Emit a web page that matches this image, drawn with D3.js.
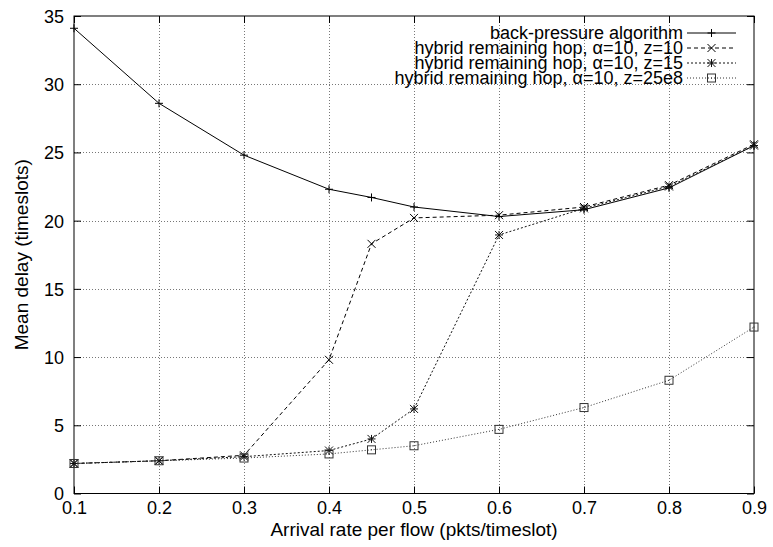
<!DOCTYPE html>
<html>
<head>
<meta charset="utf-8">
<script src="https://cdn.jsdelivr.net/npm/d3@7/dist/d3.min.js"></script>
<style>
  body { margin: 0; background: #fff; }
  svg text { font-family: "Liberation Sans", Arial, Helvetica, sans-serif; fill: #000; }
  .grid line { stroke: #777; stroke-width: 1; stroke-dasharray: 1,2; }
  .border { fill: none; stroke: #000; stroke-width: 1; }
</style>
</head>
<body>
<svg width="773" height="547"></svg>
<script>
// arrival rates (x) and mean delay per scheme
var rates = [0.1, 0.2, 0.3, 0.4, 0.45, 0.5, 0.6, 0.7, 0.8, 0.9];
var backPressure = [34.1, 28.6, 24.8, 22.3, 21.7, 21.0, 20.3, 20.8, 22.4, 25.5];
var hybridZ10 = [2.2, 2.4, 2.8, 9.8, 18.3, 20.2, 20.4, 21.0, 22.6, 25.6];
var hybridZ15 = [2.2, 2.4, 2.7, 3.15, 4.0, 6.2, 18.95, 20.9, 22.5, 25.5];
var hybridZ25e8 = [2.2, 2.4, 2.6, 2.9, 3.2, 3.5, 4.7, 6.3, 8.3, 12.2];

var seriesNames = [
  "back-pressure algorithm",
  "hybrid remaining hop, \u03b1=10, z=10",
  "hybrid remaining hop, \u03b1=10, z=15",
  "hybrid remaining hop, \u03b1=10, z=25e8"
];
var xTicks = [0.1, 0.2, 0.3, 0.4, 0.5, 0.6, 0.7, 0.8, 0.9];
var yTicks = [0, 5, 10, 15, 20, 25, 30, 35];

var svg = d3.select("svg");
var m = { left: 74, right: 754, top: 16, bottom: 493.5 };

var x = d3.scaleLinear().domain([0.1, 0.9]).range([m.left, m.right]);
var y = d3.scaleLinear().domain([0, 35]).range([m.bottom, m.top]);

// grid
var grid = svg.append("g").attr("class", "grid");
grid.selectAll("line.gx")
  .data(xTicks.slice(1, -1))
  .enter().append("line")
  .attr("x1", function(d) { return Math.round(x(d)) + 0.5; })
  .attr("x2", function(d) { return Math.round(x(d)) + 0.5; })
  .attr("y1", m.top).attr("y2", m.bottom);
grid.selectAll("line.gy")
  .data(yTicks.slice(1, -1))
  .enter().append("line")
  .attr("y1", function(d) { return Math.round(y(d)) + 0.5; })
  .attr("y2", function(d) { return Math.round(y(d)) + 0.5; })
  .attr("x1", m.left).attr("x2", m.right);

// axes, gnuplot style: inward ticks, mirrored
var fontSize = 18;
var axB = svg.append("g")
  .attr("transform", "translate(0," + m.bottom + ")")
  .call(d3.axisBottom(x).tickValues(xTicks).tickSizeInner(-7).tickSizeOuter(0).tickPadding(8)
    .tickFormat(d3.format(".1f")));
var axT = svg.append("g")
  .attr("transform", "translate(0," + m.top + ")")
  .call(d3.axisTop(x).tickValues(xTicks).tickSizeInner(-7).tickSizeOuter(0).tickFormat(""));
var axL = svg.append("g")
  .attr("transform", "translate(" + m.left + ",0)")
  .call(d3.axisLeft(y).tickValues(yTicks).tickSizeInner(-7).tickSizeOuter(0).tickPadding(10));
var axR = svg.append("g")
  .attr("transform", "translate(" + m.right + ",0)")
  .call(d3.axisRight(y).tickValues(yTicks).tickSizeInner(-7).tickSizeOuter(0).tickFormat(""));

[axB, axT, axL, axR].forEach(function(a) {
  a.select(".domain").remove();
  a.selectAll("line").attr("stroke", "#000");
  a.selectAll("text").style("font-size", fontSize + "px")
    .style("font-family", "'Liberation Sans', Arial, sans-serif").attr("fill", "#000");
});
axL.selectAll("text").attr("dy", "0.36em");

svg.append("rect").attr("class", "border")
  .attr("x", m.left).attr("y", m.top)
  .attr("width", m.right - m.left).attr("height", m.bottom - m.top);

// labels
svg.append("text")
  .attr("x", (m.left + m.right) / 2).attr("y", 536)
  .attr("text-anchor", "middle")
  .style("font-size", "19px")
  .text("Arrival rate per flow (pkts/timeslot)");
svg.append("text")
  .attr("transform", "translate(28," + ((m.top + m.bottom) / 2) + ") rotate(-90)")
  .attr("text-anchor", "middle")
  .style("font-size", "19px")
  .text("Mean delay (timeslots)");

// marker shapes
function marker(g, type, cx, cy) {
  var s = 4;
  if (type === "plus" || type === "star") {
    g.append("path").attr("d", "M" + (cx - s) + "," + cy + "H" + (cx + s) + "M" + cx + "," + (cy - s) + "V" + (cy + s));
  }
  if (type === "cross" || type === "star") {
    g.append("path").attr("d", "M" + (cx - s) + "," + (cy - s) + "L" + (cx + s) + "," + (cy + s) +
      "M" + (cx - s) + "," + (cy + s) + "L" + (cx + s) + "," + (cy - s));
  }
  if (type === "square") {
    g.append("rect").attr("x", cx - s).attr("y", cy - s).attr("width", 2 * s).attr("height", 2 * s)
      .attr("fill", "none");
    g.append("circle").attr("cx", cx).attr("cy", cy).attr("r", 0.5).attr("fill", "#000").attr("stroke", "none");
  }
}

var series = [
  { name: seriesNames[0], values: backPressure, dash: null, color: "#000", mark: "plus" },
  { name: seriesNames[1], values: hybridZ10, dash: "4,3", color: "#000", mark: "cross" },
  { name: seriesNames[2], values: hybridZ15, dash: "2,2", color: "#111", mark: "star" },
  { name: seriesNames[3], values: hybridZ25e8, dash: "1,2", color: "#333", mark: "square" }
];

var line = d3.line()
  .x(function(d, i) { return x(rates[i]); })
  .y(function(d) { return y(d); });

var plot = svg.append("g").attr("id", "lines");
series.forEach(function(s) {
  var g = plot.append("g");
  g.append("path")
    .attr("d", line(s.values))
    .attr("fill", "none")
    .attr("stroke", s.color)
    .attr("stroke-width", 1)
    .attr("stroke-dasharray", s.dash);
  var mg = g.append("g").attr("stroke", s.color).attr("stroke-width", 1).attr("fill", "none");
  s.values.forEach(function(v, i) { marker(mg, s.mark, x(rates[i]), y(v)); });
});

// legend
var legend = svg.append("g").attr("id", "legend");
series.forEach(function(s, i) {
  var ly = 33 + i * 15;
  legend.append("text")
    .attr("x", 683).attr("y", ly).attr("dy", "0.35em")
    .attr("text-anchor", "end")
    .style("font-size", "18px")
    .text(s.name);
  legend.append("line")
    .attr("x1", 687).attr("x2", 736).attr("y1", ly).attr("y2", ly)
    .attr("stroke", s.color).attr("stroke-width", 1)
    .attr("stroke-dasharray", s.dash);
  var mg = legend.append("g").attr("stroke", s.color).attr("stroke-width", 1).attr("fill", "none");
  marker(mg, s.mark, 711.5, ly);
});
</script>
</body>
</html>
